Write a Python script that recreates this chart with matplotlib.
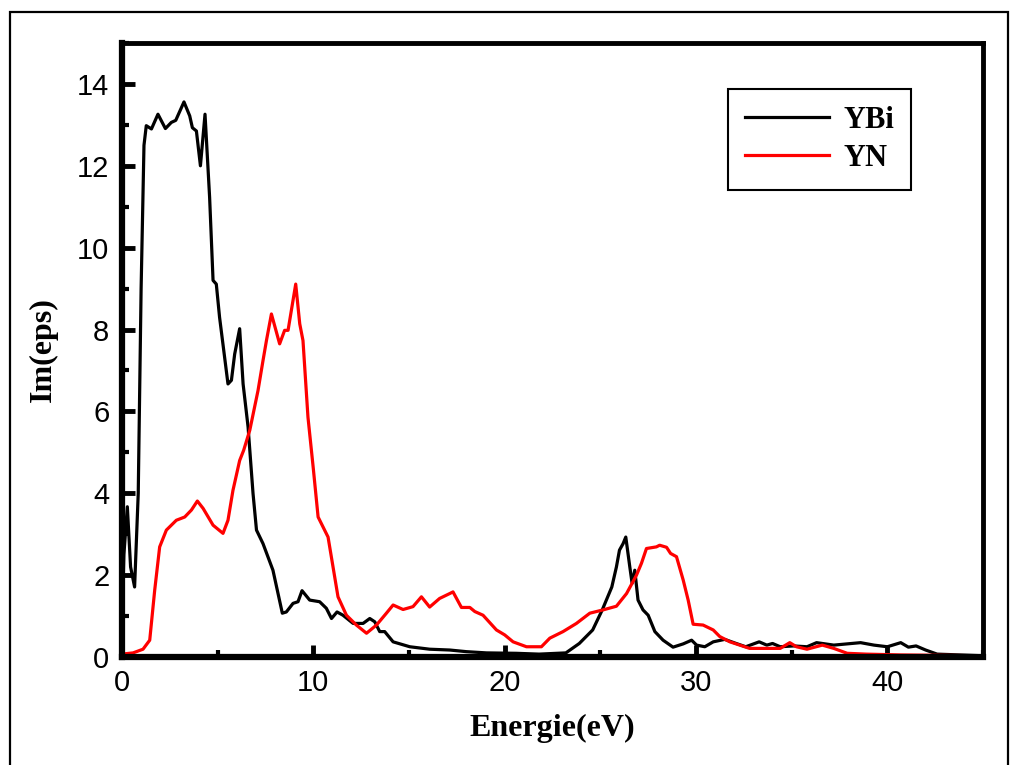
import matplotlib.pyplot as plt
from matplotlib.patches import Rectangle
from matplotlib.ticker import MultipleLocator

# YBi : Im(eps) en fonction de l'energie
ybi_e = [0.0, 0.1, 0.28, 0.45, 0.66, 0.85, 1.0, 1.15, 1.27, 1.54, 1.88, 2.27, 2.58, 2.81,
         3.24, 3.54, 3.68, 3.89, 4.1, 4.34, 4.58, 4.76, 4.93, 5.1, 5.54, 5.72, 5.89,
         6.15, 6.33, 6.59, 6.85, 7.03, 7.37, 7.89, 8.38, 8.59, 8.94, 9.2, 9.41, 9.81,
         10.33, 10.68, 10.95, 11.24, 11.55, 12.08, 12.6, 12.95, 13.21, 13.47, 13.73,
         14.17, 15.04, 16.08, 17.13, 18.0, 19.05, 20.6, 21.8, 23.2, 23.9, 24.6, 25.1,
         25.6, 25.84, 26.0, 26.19, 26.33, 26.54, 26.66, 26.8, 26.97, 27.23, 27.5,
         27.85, 28.28, 28.8, 29.33, 29.77, 30.03, 30.46, 30.9, 31.5, 32.1, 32.6, 33.3,
         33.7, 34.0, 34.4, 35.1, 35.8, 36.3, 37.2, 37.9, 38.6, 39.3, 40.0, 40.7, 41.1,
         41.5, 42.0, 42.6, 45.0]
ybi_im = [0.8, 2.5, 3.67, 2.2, 1.71, 4.0, 9.0, 12.5, 12.98, 12.9, 13.26, 12.91, 13.06, 13.11,
          13.56, 13.22, 12.93, 12.85, 12.0, 13.26, 11.23, 9.2, 9.11, 8.3, 6.67, 6.76, 7.4,
          8.02, 6.67, 5.62, 3.99, 3.1, 2.77, 2.12, 1.07, 1.1, 1.31, 1.35, 1.62, 1.39,
          1.35, 1.19, 0.94, 1.1, 1.02, 0.82, 0.82, 0.94, 0.86, 0.62, 0.62,
          0.37, 0.25, 0.19, 0.17, 0.13, 0.1, 0.09, 0.07, 0.1, 0.33, 0.66, 1.15,
          1.71, 2.2, 2.61, 2.77, 2.93, 2.2, 1.8, 2.12, 1.39, 1.15, 1.02,
          0.62, 0.41, 0.24, 0.32, 0.41, 0.29, 0.25, 0.37, 0.43, 0.33, 0.25, 0.37,
          0.29, 0.33, 0.25, 0.27, 0.25, 0.35, 0.29, 0.32, 0.35, 0.29, 0.25, 0.35, 0.24,
          0.27, 0.17, 0.07, 0.03]

# YN
yn_e = [0.0, 0.58, 1.1, 1.45, 1.71, 1.97, 2.32, 2.84, 3.28, 3.63, 3.94, 4.24, 4.76, 5.28,
        5.54, 5.8, 6.15, 6.36, 6.68, 7.11, 7.37, 7.55, 7.81, 8.24, 8.5, 8.68, 9.08, 9.29,
        9.46, 9.72, 10.0, 10.25, 10.77, 11.03, 11.29, 11.73, 12.25, 12.78, 13.3, 13.82,
        14.17, 14.69, 15.21, 15.65, 16.08, 16.6, 17.13, 17.3, 17.74, 18.18, 18.44, 18.87,
        19.57, 20.0, 20.44, 21.14, 21.92, 22.36, 23.05, 23.75, 24.45, 25.14, 25.84,
        26.37, 26.89, 27.15, 27.41, 27.93, 28.1, 28.46, 28.67, 28.98, 29.33, 29.59,
        29.85, 30.37, 30.9, 31.24, 31.77, 32.8, 33.5, 34.4, 34.9, 35.25, 35.8, 36.6,
        37.2, 37.9, 38.9, 40.7, 45.0]
yn_im = [0.07, 0.1, 0.19, 0.41, 1.63, 2.69, 3.1, 3.34, 3.42, 3.59, 3.81, 3.63, 3.22, 3.02,
         3.34, 4.07, 4.8, 5.05, 5.54, 6.51, 7.24, 7.73, 8.38, 7.65, 7.98, 7.98, 9.11, 8.14,
         7.73, 5.86, 4.6, 3.42, 2.93, 2.2, 1.47, 1.02, 0.78, 0.58, 0.78, 1.07,
         1.27, 1.16, 1.23, 1.47, 1.22, 1.43, 1.55, 1.59, 1.21, 1.21, 1.11, 1.02,
         0.66, 0.54, 0.37, 0.25, 0.25, 0.46, 0.62, 0.82, 1.07, 1.15, 1.24,
         1.55, 2.0, 2.29, 2.65, 2.69, 2.73, 2.68, 2.53, 2.45, 1.88, 1.39,
         0.8, 0.78, 0.66, 0.5, 0.37, 0.21, 0.21, 0.21, 0.35, 0.25, 0.19, 0.29,
         0.21, 0.09, 0.07, 0.05, 0.03]

fig = plt.figure(figsize=(10.19, 7.65), dpi=100)
ax = fig.add_axes([0.1197, 0.1412, 0.845, 0.8026])

# cadre exterieur autour de la figure
fig.patches.append(Rectangle((0.0098, -0.02), 0.9794, 1.0043, transform=fig.transFigure,
                             fill=False, edgecolor="black", linewidth=1.6))

ax.plot(ybi_e, ybi_im, color="black", linewidth=2.3, label="YBi")
ax.plot(yn_e, yn_im, color="red", linewidth=2.3, label="YN")

ax.set_xlim(0, 45)
ax.set_ylim(0, 15)
ax.xaxis.set_major_locator(MultipleLocator(10))
ax.xaxis.set_minor_locator(MultipleLocator(5))
ax.yaxis.set_minor_locator(MultipleLocator(1))
ax.set_yticks(range(0, 15, 2))

ax.tick_params(which="major", direction="in", length=9, width=3.5, labelsize=21,
               pad=9)
ax.tick_params(which="minor", direction="in", length=5, width=3)
for lab in ax.get_xticklabels() + ax.get_yticklabels():
    lab.set_family("Liberation Sans")

for side in ["left", "bottom"]:
    ax.spines[side].set_linewidth(4.5)
for side in ["top", "right"]:
    ax.spines[side].set_linewidth(3.5)

ax.set_xlabel("Energie(eV)", family="Liberation Serif", fontweight="bold",
              fontsize=23, labelpad=12)
ax.set_ylabel("Im(eps)", family="Liberation Serif", fontweight="bold",
              fontsize=23, labelpad=14)

leg = ax.legend(loc="upper right", bbox_to_anchor=(0.916, 0.925), borderaxespad=0,
                fancybox=False, edgecolor="black", framealpha=1, handlelength=2.75,
                handletextpad=0.45, labelspacing=0.3, borderpad=0.55,
                prop={"family": "Liberation Serif", "weight": "bold", "size": 22})
leg.get_frame().set_linewidth(1.5)

fig.savefig("out.png", dpi=100)
